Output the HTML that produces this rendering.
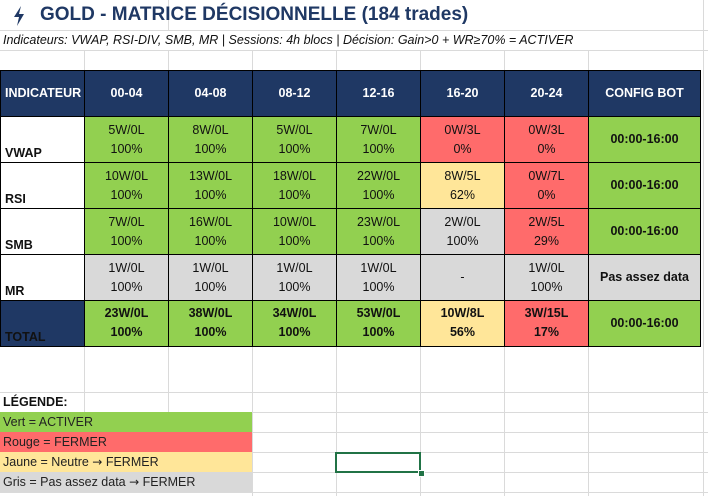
<!DOCTYPE html>
<html><head><meta charset="utf-8"><style>
body{margin:0;width:708px;height:496px;background:#fff;position:relative;overflow:hidden;font-family:"Liberation Sans",sans-serif;}
.g{position:absolute;background:#dadada}
.c{position:absolute;box-sizing:border-box;border:1px solid #000;text-align:center;font-size:12.5px;color:#111;display:flex;flex-direction:column;justify-content:center;line-height:19px}
.h{background:#1f3864;color:#fff;font-weight:bold;font-size:12.5px}
.G{background:#92d050}.R{background:#ff6b6b}.Y{background:#ffe699}.S{background:#d9d9d9}.W{background:#fff}
.b{font-weight:bold}
.lab{justify-content:flex-end;text-align:left;padding-left:4px;font-weight:bold;line-height:17px}
.leg{position:absolute;left:0;width:252px;height:20px;font-size:12.5px;line-height:20px;padding-left:3px;box-sizing:border-box;color:#222}
.ar{font-family:"DejaVu Sans",sans-serif;font-size:12px}
</style></head><body>
<div class="g" style="left:0;top:30px;width:708px;height:1px"></div>
<div class="g" style="left:0;top:50px;width:708px;height:1px"></div>
<div class="g" style="left:0;top:392px;width:708px;height:1px"></div>
<div class="g" style="left:252px;top:412px;width:456px;height:1px"></div>
<div class="g" style="left:252px;top:432px;width:456px;height:1px"></div>
<div class="g" style="left:252px;top:452px;width:456px;height:1px"></div>
<div class="g" style="left:252px;top:472px;width:456px;height:1px"></div>
<div class="g" style="left:0;top:492px;width:708px;height:1px"></div>
<div class="g" style="left:84px;top:50px;width:1px;height:20px"></div>
<div class="g" style="left:168px;top:0;width:1px;height:30px"></div>
<div class="g" style="left:168px;top:50px;width:1px;height:20px"></div>
<div class="g" style="left:252px;top:50px;width:1px;height:20px"></div>
<div class="g" style="left:336px;top:50px;width:1px;height:20px"></div>
<div class="g" style="left:420px;top:50px;width:1px;height:20px"></div>
<div class="g" style="left:504px;top:50px;width:1px;height:20px"></div>
<div class="g" style="left:588px;top:50px;width:1px;height:20px"></div>
<div class="g" style="left:84px;top:346px;width:1px;height:66px"></div>
<div class="g" style="left:168px;top:346px;width:1px;height:66px"></div>
<div class="g" style="left:252px;top:346px;width:1px;height:150px"></div>
<div class="g" style="left:336px;top:346px;width:1px;height:150px"></div>
<div class="g" style="left:420px;top:346px;width:1px;height:150px"></div>
<div class="g" style="left:504px;top:346px;width:1px;height:150px"></div>
<div class="g" style="left:588px;top:346px;width:1px;height:150px"></div>
<div class="g" style="left:703px;top:0;width:1px;height:496px"></div>

<svg style="position:absolute;left:12px;top:6px" width="14" height="20" viewBox="0 0 14 20"><polygon points="9,0 2,11 7,11 5,20 12,8 7,8" fill="#1f3864"/></svg>
<div style="position:absolute;left:40px;top:4px;font-size:19px;font-weight:bold;color:#1f3864;white-space:nowrap">GOLD - MATRICE DÉCISIONNELLE (184 trades)</div>
<div style="position:absolute;left:3px;top:33px;font-size:12.5px;font-style:italic;color:#111;white-space:nowrap">Indicateurs: VWAP, RSI-DIV, SMB, MR | Sessions: 4h blocs | Décision: Gain&gt;0 + WR≥70% = ACTIVER</div>

<div class="c h" style="left:0;top:70px;width:85px;height:47px;text-align:left;padding-left:4px">INDICATEUR</div>
<div class="c h" style="left:84px;top:70px;width:85px;height:47px">00-04</div>
<div class="c h" style="left:168px;top:70px;width:85px;height:47px">04-08</div>
<div class="c h" style="left:252px;top:70px;width:85px;height:47px">08-12</div>
<div class="c h" style="left:336px;top:70px;width:85px;height:47px">12-16</div>
<div class="c h" style="left:420px;top:70px;width:85px;height:47px">16-20</div>
<div class="c h" style="left:504px;top:70px;width:85px;height:47px">20-24</div>
<div class="c h" style="left:588px;top:70px;width:113px;height:47px">CONFIG BOT</div>

<div class="c W lab" style="left:0;top:116px;width:85px;height:47px">VWAP</div>
<div class="c G" style="left:84px;top:116px;width:85px;height:47px">5W/0L<br>100%</div>
<div class="c G" style="left:168px;top:116px;width:85px;height:47px">8W/0L<br>100%</div>
<div class="c G" style="left:252px;top:116px;width:85px;height:47px">5W/0L<br>100%</div>
<div class="c G" style="left:336px;top:116px;width:85px;height:47px">7W/0L<br>100%</div>
<div class="c R" style="left:420px;top:116px;width:85px;height:47px">0W/3L<br>0%</div>
<div class="c R" style="left:504px;top:116px;width:85px;height:47px">0W/3L<br>0%</div>
<div class="c G b" style="left:588px;top:116px;width:113px;height:47px">00:00-16:00</div>
<div class="c W lab" style="left:0;top:162px;width:85px;height:47px">RSI</div>
<div class="c G" style="left:84px;top:162px;width:85px;height:47px">10W/0L<br>100%</div>
<div class="c G" style="left:168px;top:162px;width:85px;height:47px">13W/0L<br>100%</div>
<div class="c G" style="left:252px;top:162px;width:85px;height:47px">18W/0L<br>100%</div>
<div class="c G" style="left:336px;top:162px;width:85px;height:47px">22W/0L<br>100%</div>
<div class="c Y" style="left:420px;top:162px;width:85px;height:47px">8W/5L<br>62%</div>
<div class="c R" style="left:504px;top:162px;width:85px;height:47px">0W/7L<br>0%</div>
<div class="c G b" style="left:588px;top:162px;width:113px;height:47px">00:00-16:00</div>
<div class="c W lab" style="left:0;top:208px;width:85px;height:47px">SMB</div>
<div class="c G" style="left:84px;top:208px;width:85px;height:47px">7W/0L<br>100%</div>
<div class="c G" style="left:168px;top:208px;width:85px;height:47px">16W/0L<br>100%</div>
<div class="c G" style="left:252px;top:208px;width:85px;height:47px">10W/0L<br>100%</div>
<div class="c G" style="left:336px;top:208px;width:85px;height:47px">23W/0L<br>100%</div>
<div class="c S" style="left:420px;top:208px;width:85px;height:47px">2W/0L<br>100%</div>
<div class="c R" style="left:504px;top:208px;width:85px;height:47px">2W/5L<br>29%</div>
<div class="c G b" style="left:588px;top:208px;width:113px;height:47px">00:00-16:00</div>
<div class="c W lab" style="left:0;top:254px;width:85px;height:47px">MR</div>
<div class="c S" style="left:84px;top:254px;width:85px;height:47px">1W/0L<br>100%</div>
<div class="c S" style="left:168px;top:254px;width:85px;height:47px">1W/0L<br>100%</div>
<div class="c S" style="left:252px;top:254px;width:85px;height:47px">1W/0L<br>100%</div>
<div class="c S" style="left:336px;top:254px;width:85px;height:47px">1W/0L<br>100%</div>
<div class="c S" style="left:420px;top:254px;width:85px;height:47px">-</div>
<div class="c S" style="left:504px;top:254px;width:85px;height:47px">1W/0L<br>100%</div>
<div class="c S b" style="left:588px;top:254px;width:113px;height:47px">Pas assez data</div>
<div class="c lab" style="left:0;top:300px;width:85px;height:47px;background:#1f3864;color:#111">TOTAL</div>
<div class="c G b" style="left:84px;top:300px;width:85px;height:47px;justify-content:flex-start;padding-top:3px">23W/0L<br>100%</div>
<div class="c G b" style="left:168px;top:300px;width:85px;height:47px;justify-content:flex-start;padding-top:3px">38W/0L<br>100%</div>
<div class="c G b" style="left:252px;top:300px;width:85px;height:47px;justify-content:flex-start;padding-top:3px">34W/0L<br>100%</div>
<div class="c G b" style="left:336px;top:300px;width:85px;height:47px;justify-content:flex-start;padding-top:3px">53W/0L<br>100%</div>
<div class="c Y b" style="left:420px;top:300px;width:85px;height:47px;justify-content:flex-start;padding-top:3px">10W/8L<br>56%</div>
<div class="c R b" style="left:504px;top:300px;width:85px;height:47px;justify-content:flex-start;padding-top:3px">3W/15L<br>17%</div>
<div class="c G b" style="left:588px;top:300px;width:113px;height:47px">00:00-16:00</div>

<div style="position:absolute;left:3px;top:395px;font-size:12.5px;font-weight:bold;color:#111">LÉGENDE:</div>
<div class="leg G" style="top:412px">Vert = ACTIVER</div>
<div class="leg R" style="top:432px">Rouge = FERMER</div>
<div class="leg Y" style="top:452px">Jaune = Neutre <span class="ar">→</span> FERMER</div>
<div class="leg S" style="top:472px">Gris = Pas assez data <span class="ar">→</span> FERMER</div>

<div style="position:absolute;left:335px;top:452px;width:86px;height:21px;box-sizing:border-box;border:2px solid #217346"></div>
<div style="position:absolute;left:418px;top:470px;width:5px;height:5px;background:#217346;border:1px solid #fff"></div>
</body></html>
